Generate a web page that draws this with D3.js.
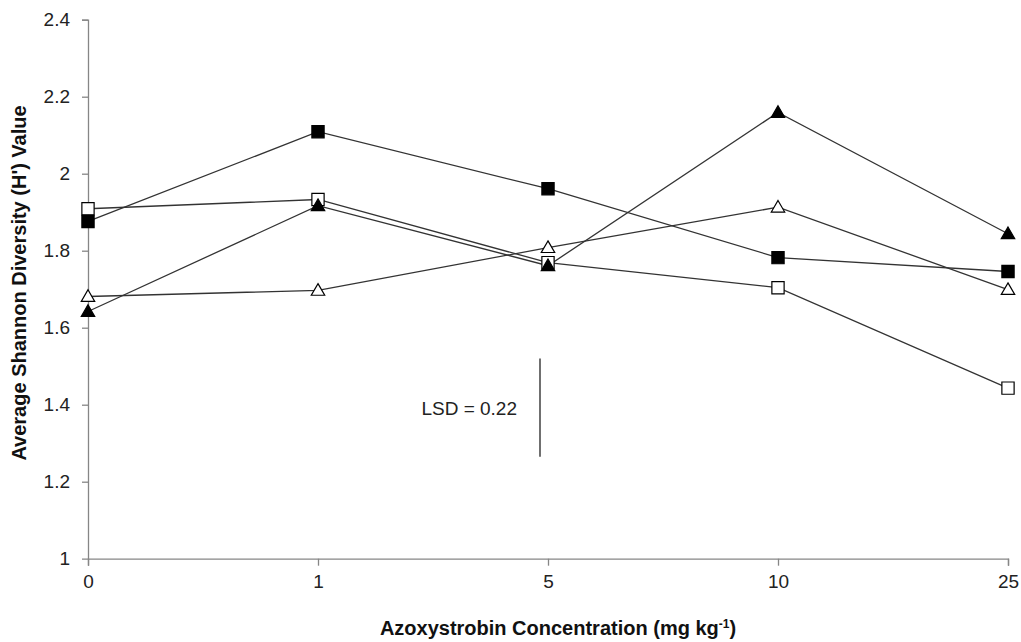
<!DOCTYPE html>
<html><head><meta charset="utf-8">
<script src="https://cdn.jsdelivr.net/npm/d3@7"></script>
<style>body{margin:0;background:#fff}svg{display:block;font-family:"Liberation Sans",Arial,sans-serif}</style>
</head><body><svg id="c" width="1021" height="642"></svg>
<script>
const categories = ["0","1","5","10","25"];
const filledSquare = [1.876, 2.109, 1.961, 1.782, 1.746];
const openSquare   = [1.909, 1.933, 1.769, 1.704, 1.443];
const filledTri    = [1.642, 1.917, 1.761, 2.159, 1.844];
const openTri      = [1.681, 1.697, 1.808, 1.913, 1.699];
const yTicks = [1, 1.2, 1.4, 1.6, 1.8, 2, 2.2, 2.4];
const lsd = {label: "LSD = 0.22", top: 1.52, bottom: 1.265, at: "5"};

const series = [
  {values: openSquare, shape: "square", fill: "#fff"},
  {values: filledSquare, shape: "square", fill: "#000"},
  {values: openTri, shape: "triangle", fill: "#fff"},
  {values: filledTri, shape: "triangle", fill: "#000"}
];

const FS = 19, TS = 20;
const svg = d3.select("#c");
const m = {l: 88, r: 13, t: 19.7, b: 83.3};
const W = 1021, H = 642;
const x = d3.scalePoint().domain(categories).range([m.l, W - m.r]);
const y = d3.scaleLinear().domain([1, 2.4]).range([H - m.b, m.t]);

const ya = svg.append("g").attr("transform", `translate(${m.l},0)`)
  .call(d3.axisLeft(y).tickValues(yTicks).tickSize(6).tickPadding(12).tickFormat(d3.format("")));
const xa = svg.append("g").attr("transform", `translate(0,${y(1)})`)
  .call(d3.axisBottom(x).tickSize(7).tickPadding(9));
[ya, xa].forEach(a => {
  a.attr("font-size", FS).attr("font-family", "Liberation Sans, Arial, sans-serif");
  a.select(".domain").attr("stroke", "#868686").attr("stroke-width", 1.3);
  a.selectAll(".tick line").attr("stroke", "#868686").attr("stroke-width", 1.3);
  a.selectAll("text").attr("fill", "#222");
});
ya.selectAll(".tick").filter(d => d === 1).select("line").remove();

const line = d3.line().x((d, i) => x(categories[i])).y(d => y(d));
series.forEach(s => {
  svg.append("path").datum(s.values).attr("d", line)
    .attr("fill", "none").attr("stroke", "#333").attr("stroke-width", 1.3);
});
const sq = d3.symbol().type(d3.symbolSquare).size(150);
const tr = d3.symbol().type(d3.symbolTriangle).size(78);
series.forEach(s => {
  svg.append("g").selectAll("path").data(s.values).join("path")
    .attr("transform", (d, i) => `translate(${x(categories[i])},${y(d) + (s.shape === "triangle" ? 1 : 0)})`)
    .attr("d", s.shape === "square" ? sq : tr)
    .attr("fill", s.fill).attr("stroke", "#000").attr("stroke-width", 1.2);
});

// LSD bar
const lx = x(lsd.at) - 8;
svg.append("line").attr("x1", lx).attr("x2", lx).attr("y1", y(lsd.top)).attr("y2", y(lsd.bottom))
  .attr("stroke", "#222").attr("stroke-width", 1.3);
svg.append("text").attr("x", lx - 23).attr("y", y((lsd.top + lsd.bottom) / 2) + 7)
  .attr("text-anchor", "end").attr("font-size", FS).attr("fill", "#222").text(lsd.label);

// axis titles
const xt = svg.append("text").attr("x", 558).attr("y", 635)
  .attr("text-anchor", "middle").attr("font-size", TS).attr("font-weight", "bold").attr("fill", "#111");
xt.append("tspan").text("Azoxystrobin Concentration (mg kg");
xt.append("tspan").attr("font-size", 12).attr("dy", -7).text("-1");
xt.append("tspan").attr("dy", 7).text(")");
svg.append("text").attr("transform", `translate(26,283) rotate(-90)`)
  .attr("text-anchor", "middle").attr("font-size", TS).attr("font-weight", "bold").attr("fill", "#111")
  .text("Average Shannon Diversity (H') Value");
</script></body></html>
